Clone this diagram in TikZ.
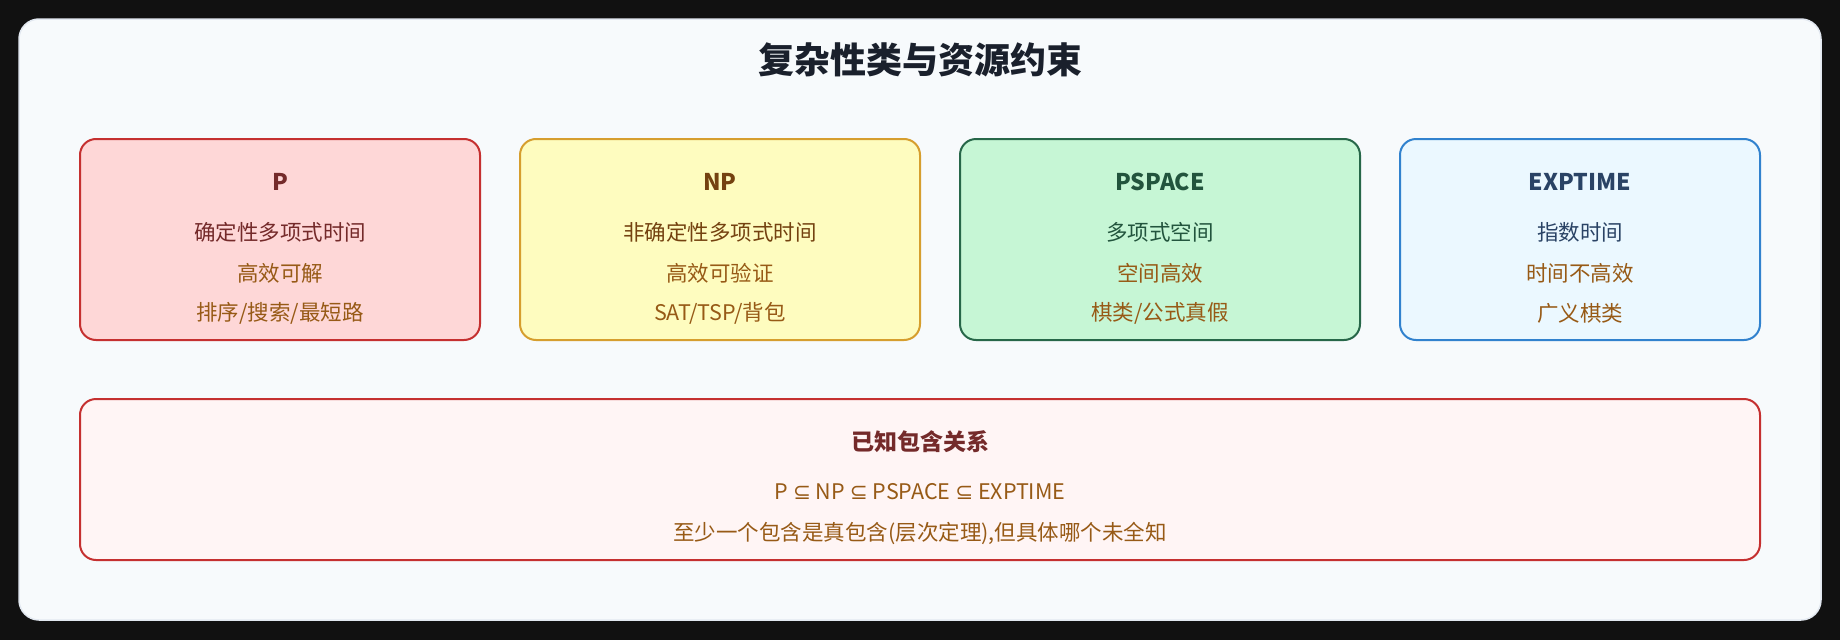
\documentclass[tikz,border=0pt]{standalone}
\usepackage{fontspec}
\setmainfont{Noto Sans CJK SC}
\newfontfamily\symfont{DejaVu Sans}

\definecolor{pagebg}{HTML}{111111}
\definecolor{cardbg}{HTML}{F7FAFC}
\definecolor{cardline}{HTML}{E2E8F0}
\definecolor{titlecol}{HTML}{1A202C}
\definecolor{pfill}{HTML}{FED7D7}
\definecolor{pline}{HTML}{C53030}
\definecolor{pdark}{HTML}{742A2A}
\definecolor{npfill}{HTML}{FEFCBF}
\definecolor{npline}{HTML}{D69E2E}
\definecolor{npdark}{HTML}{744210}
\definecolor{psfill}{HTML}{C6F6D5}
\definecolor{psline}{HTML}{276749}
\definecolor{psdark}{HTML}{22543D}
\definecolor{exfill}{HTML}{EBF8FF}
\definecolor{exline}{HTML}{3182CE}
\definecolor{exdark}{HTML}{2A4365}
\definecolor{relfill}{HTML}{FFF5F5}
\definecolor{brown}{HTML}{975A16}

\begin{document}
\begin{tikzpicture}[x=1pt, y=-1pt,
  classbox/.style = {draw, line width=2pt, rounded corners=16pt, minimum height=201pt},
  head/.style = {font=\fontsize{23}{28}\selectfont\bfseries},
  line/.style = {font=\fontsize{21.5}{26}\selectfont}]
% page and card
\fill[pagebg] (0,0) rectangle (1840,640);
\useasboundingbox (0,0) rectangle (1840,640);
\draw[cardline, fill=cardbg, line width=1.5pt, rounded corners=20pt] (19,19) rectangle (1821,620);
\node[text=titlecol, font=\fontsize{36}{42}\selectfont\bfseries] (title) at (920,60) {复杂性类与资源约束};

% four classes
\node[classbox, draw=pline, fill=pfill, minimum width=400pt] (p) at (280,239.5) {};
\node[head, text=pdark] (phead) at (280,182) {P};
\node[line, text=pdark] (p1) at (280,232) {确定性多项式时间};
\node[line, text=brown] (p2) at (280,273) {高效可解};
\node[line, text=brown] (p3) at (280,313) {排序/搜索/最短路};

\node[classbox, draw=npline, fill=npfill, minimum width=400pt] (np) at (720,239.5) {};
\node[head, text=npdark] (nphead) at (720,182) {NP};
\node[line, text=npdark] (np1) at (720,232) {非确定性多项式时间};
\node[line, text=brown] (np2) at (720,273) {高效可验证};
\node[line, text=brown] (np3) at (720,313) {SAT/TSP/背包};

\node[classbox, draw=psline, fill=psfill, minimum width=400pt] (ps) at (1160,239.5) {};
\node[head, text=psdark] (pshead) at (1160,182) {PSPACE};
\node[line, text=psdark] (ps1) at (1160,232) {多项式空间};
\node[line, text=brown] (ps2) at (1160,273) {空间高效};
\node[line, text=brown] (ps3) at (1160,313) {棋类/公式真假};

\node[classbox, draw=exline, fill=exfill, minimum width=360pt] (ex) at (1580,239.5) {};
\node[head, text=exdark] (exhead) at (1580,182) {EXPTIME};
\node[line, text=exdark] (ex1) at (1580,232) {指数时间};
\node[line, text=brown] (ex2) at (1580,273) {时间不高效};
\node[line, text=brown] (ex3) at (1580,313) {广义棋类};

% inclusion chain
\node[classbox, draw=pline, fill=relfill, minimum width=1680pt, minimum height=161pt] (rel) at (920,479.5) {};
\node[head, text=pdark] (relhead) at (920,442) {已知包含关系};
\node[line, text=brown] (rel1) at (920,492) {P {\symfont ⊆} NP {\symfont ⊆} PSPACE {\symfont ⊆} EXPTIME};
\node[line, text=brown] (rel2) at (920,533) {至少一个包含是真包含(层次定理),但具体哪个未全知};
\end{tikzpicture}
\end{document}
